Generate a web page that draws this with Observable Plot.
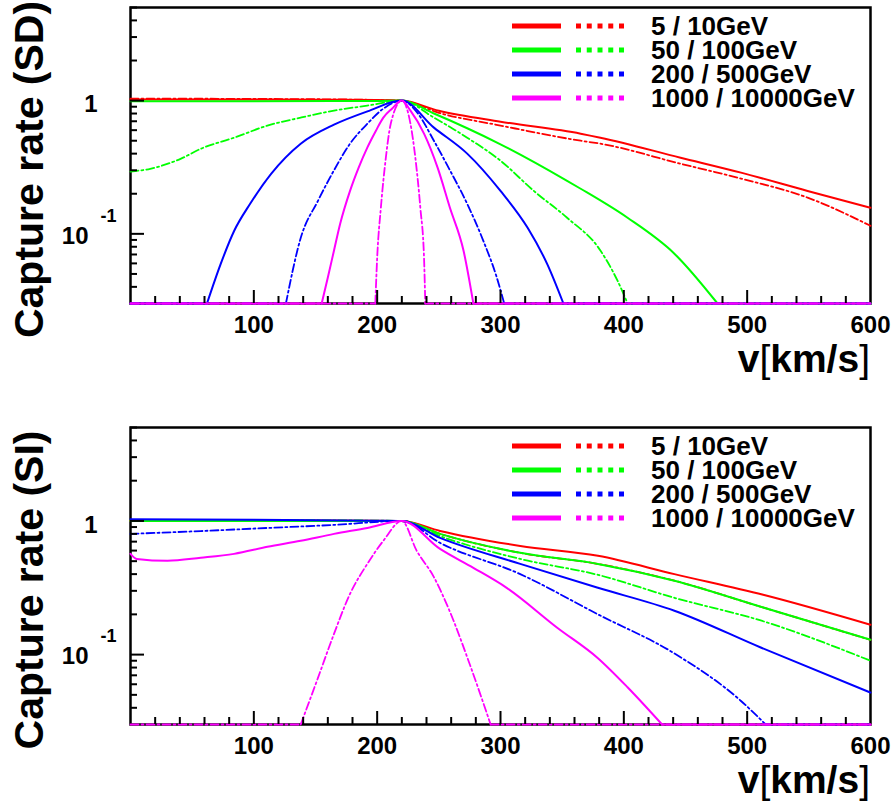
<!DOCTYPE html>
<html><head><meta charset="utf-8">
<script src="https://cdn.jsdelivr.net/npm/d3@7"></script>
<script src="https://cdn.jsdelivr.net/npm/@observablehq/plot@0.6"></script>
<style>body{margin:0;background:#fff} svg{display:block}</style>
</head><body><div id="chart"></div>
<script>
// ---- categories / labels ----
const seriesColors = ["#ff0000", "#00ff00", "#0000ff", "#ff00ff"];
const solidMasses = [5, 50, 200, 1000];
const dashedMasses = [10, 100, 500, 10000];
const legendLabels = ["5 / 10GeV", "50 / 100GeV", "200 / 500GeV", "1000 / 10000GeV"];
const xTickLabels = [100, 200, 300, 400, 500, 600];
const xMajorTicks = [100, 200, 300, 400, 500];
const xMinorTicks = [20, 40, 60, 80, 120, 140, 160, 180, 220, 240, 260, 280, 320, 340, 360, 380, 420, 440, 460, 480, 520, 540, 560, 580];
const yMajorTicks = [0.1, 1];
const yMinorTicks = [0.04, 0.05, 0.06, 0.07, 0.08, 0.09, 0.2, 0.3, 0.4, 0.5, 0.6, 0.7, 0.8, 0.9, 2, 3, 4, 5];
const panelTitles = ["Capture rate (SD)", "Capture rate (SI)"];
const yMin = 0.03, yMax = 5, peakV = 220;

// ---- SD values: [v (km/s), relative capture rate]; 0.001 = below plotted range ----
const sd_5 = [[0,1.02],[50,1.02],[100,1.02],[150,1.015],[200,1.01],[220,1.0],[250,0.84],[300,0.695],[365,0.565],[381,0.527],[446,0.373],[495,0.288],[549,0.21],[600,0.157]];
const sd_10 = [[0,1.035],[100,1.03],[200,1.012],[220,1.0],[250,0.81],[300,0.65],[365,0.5],[381,0.475],[446,0.336],[495,0.26],[549,0.187],[600,0.115]];
const sd_50 = [[0,0.99],[100,0.99],[200,0.995],[220,1.0],[246,0.8],[273,0.62],[300,0.47],[354,0.25],[365,0.218],[403,0.132],[441,0.071],[476,0.03],[600,0.001]];
const sd_100 = [[0,0.293],[16,0.308],[41,0.367],[57,0.435],[84,0.527],[111,0.649],[138,0.745],[165,0.841],[192,0.917],[220,1.0],[246,0.745],[273,0.527],[300,0.354],[327,0.21],[354,0.132],[381,0.075],[400,0.035],[403,0.03],[600,0.001]];
const sd_200 = [[0,0.001],[62,0.03],[73,0.059],[84,0.105],[97,0.168],[114,0.282],[138,0.475],[165,0.66],[192,0.83],[220,1.0],[246,0.627],[273,0.4],[300,0.21],[322,0.111],[338,0.059],[351,0.03],[600,0.001]];
const sd_500 = [[0,0.001],[126,0.03],[138,0.093],[152,0.177],[165,0.3],[178,0.475],[192,0.67],[205,0.87],[220,1.0],[233,0.8],[246,0.5],[259,0.3],[273,0.168],[286,0.089],[297,0.047],[303,0.03],[600,0.001]];
const sd_1000 = [[0,0.001],[155,0.03],[160,0.047],[165,0.075],[170,0.119],[178,0.21],[185,0.314],[192,0.444],[199,0.595],[205,0.745],[212,0.87],[220,1.0],[227,0.84],[238,0.565],[249,0.314],[259,0.157],[270,0.075],[278,0.03],[600,0.001]];
const sd_10000 = [[0,0.001],[198.5,0.03],[200,0.066],[203,0.157],[207,0.37],[211,0.67],[220,1.0],[227,0.67],[231,0.37],[235,0.157],[238,0.066],[239,0.03],[600,0.001]];

// ---- SI values ----
const si_5 = [[0,1.01],[100,1.01],[200,1.005],[220,1.0],[251,0.842],[316,0.65],[379,0.548],[441,0.40],[513,0.28],[600,0.167]];
const si_10 = [[0,1.0],[100,1.0],[200,1.0],[220,1.0],[251,0.80],[316,0.577],[379,0.477],[441,0.357],[511,0.228],[600,0.129]];
const si_50 = [[0,1.02],[100,1.015],[200,1.005],[220,1.0],[251,0.77],[316,0.52],[379,0.395],[441,0.266],[511,0.18],[600,0.09]];
const si_200 = [[0,1.03],[100,1.02],[200,1.005],[220,1.0],[251,0.747],[316,0.477],[379,0.316],[441,0.213],[511,0.113],[600,0.052]];
const si_500 = [[0,0.80],[57,0.84],[111,0.886],[165,0.934],[220,1.0],[251,0.685],[316,0.40],[379,0.20],[441,0.102],[495,0.045],[515,0.03],[600,0.001]];
const si_1000 = [[0,0.567],[5,0.52],[30,0.503],[57,0.53],[84,0.567],[111,0.64],[138,0.71],[165,0.80],[192,0.886],[220,1.0],[251,0.618],[278,0.446],[305,0.316],[346,0.159],[379,0.094],[403,0.057],[431,0.03],[600,0.001]];
const si_10000 = [[0,0.001],[138,0.03],[152,0.067],[165,0.143],[178,0.285],[192,0.477],[205,0.71],[220,1.0],[232,0.6],[246,0.38],[258,0.22],[275,0.085],[292,0.03],[600,0.001]];

const sdSolid = [sd_5, sd_50, sd_200, sd_1000];
const sdDashed = [sd_10, sd_100, sd_500, sd_10000];
const siSolid = [si_5, si_10, si_200, si_1000];
const siDashed = [si_10, si_50, si_500, si_10000];

const FONT = "'Liberation Sans', Arial, Helvetica, sans-serif";

function seriesMarks(arr, color, width, dash) {
  const main = arr.filter(d => d[1] >= yMin);
  const tails = arr.filter(d => d[1] <= yMin);
  const opts = {x: d => d[0], y: d => d[1], stroke: color, strokeWidth: width};
  if (dash) opts.strokeDasharray = dash;
  return [
    Plot.line(main, {...opts, curve: "monotone-x"}),
    Plot.line(tails, {...opts, z: d => d[0] < peakV ? "L" : "R", curve: "linear"})
  ];
}

function panel(solid, dashed, yTitle, height, marginBottom) {
  const W = 896, mL = 130, mR = 26, mT = 7;
  const frameW = W - mL - mR, frameH = height - mT - marginBottom;
  const marks = [Plot.frame({stroke: "black", strokeWidth: 2.5})];
  for (let i = 0; i < 4; i++) {
    marks.push(...seriesMarks(solid[i], seriesColors[i], 2, null));
    marks.push(...seriesMarks(dashed[i], seriesColors[i], 1.8, "8,3,2,3"));
  }
  marks.push(
    Plot.tickX(xMinorTicks, {x: d => d, insetTop: frameH - 7, stroke: "black", strokeWidth: 2}),
    Plot.tickX(xMajorTicks, {x: d => d, insetTop: frameH - 13, stroke: "black", strokeWidth: 2}),
    Plot.tickY(yMinorTicks, {y: d => d, insetRight: frameW - 7, stroke: "black", strokeWidth: 2}),
    Plot.tickY(yMajorTicks, {y: d => d, insetRight: frameW - 14, stroke: "black", strokeWidth: 2}),
    Plot.text(xTickLabels, {x: d => d, frameAnchor: "bottom", dy: 22, text: d => String(d), fontSize: 24, fontWeight: "bold", lineAnchor: "middle"}),
    Plot.text([1], {y: d => d, frameAnchor: "left", dx: -33, dy: 4, text: d => "1", textAnchor: "end", fontSize: 24, fontWeight: "bold", lineAnchor: "middle"}),
    Plot.text([0.1], {y: d => d, frameAnchor: "left", dx: -42, dy: 2, text: d => "10", textAnchor: "end", fontSize: 24, fontWeight: "bold", lineAnchor: "middle"}),
    Plot.text([0.1], {y: d => d, frameAnchor: "left", dx: -30, dy: -18, text: d => "-1", textAnchor: "start", fontSize: 18, fontWeight: "bold", lineAnchor: "middle"}),
    Plot.text([yTitle], {frameAnchor: "left", rotate: -90, textAnchor: "middle", lineAnchor: "middle", dx: -101, dy: 14, fontSize: 41, fontWeight: "bold", text: d => d})
  );
  const svg = Plot.plot({
    width: W, height, marginLeft: mL, marginRight: mR, marginTop: mT, marginBottom,
    style: {fontFamily: FONT, background: "white", color: "black", overflow: "visible"},
    x: {domain: [0, 600], axis: null},
    y: {type: "log", domain: [yMin, yMax], clamp: true, axis: null},
    marks
  });
  const s = d3.select(svg);
  // legend
  const lg = s.append("g").attr("text-anchor", "start");
  legendLabels.forEach((label, i) => {
    const cy = 26 + i * 24;
    lg.append("line").attr("x1", 512).attr("x2", 561).attr("y1", cy).attr("y2", cy)
      .attr("stroke", seriesColors[i]).attr("stroke-width", 5);
    lg.append("line").attr("x1", 576).attr("x2", 624).attr("y1", cy).attr("y2", cy)
      .attr("stroke", seriesColors[i]).attr("stroke-width", 5).attr("stroke-dasharray", "5,5.75");
    lg.append("text").attr("x", 651).attr("y", cy).attr("dy", "0.36em").attr("text-anchor", "start")
      .attr("font-family", FONT).attr("font-weight", "bold").attr("font-size", 26).attr("fill", "black")
      .text(label);
  });
  // x title
  const t = s.append("text").attr("x", mL + frameW).attr("y", mT + frameH + 69)
    .attr("text-anchor", "end").attr("font-family", FONT).attr("font-size", 39).attr("fill", "black");
  t.append("tspan").attr("font-weight", "bold").text("v");
  t.append("tspan").attr("font-weight", "normal").text("[");
  t.append("tspan").attr("font-weight", "bold").text("km/s");
  t.append("tspan").attr("font-weight", "normal").text("]");
  return svg;
}

const root = document.getElementById("chart");
root.appendChild(panel(sdSolid, sdDashed, panelTitles[0], 420, 117));
root.appendChild(panel(siSolid, siDashed, panelTitles[1], 381, 77));
</script>
</body></html>
